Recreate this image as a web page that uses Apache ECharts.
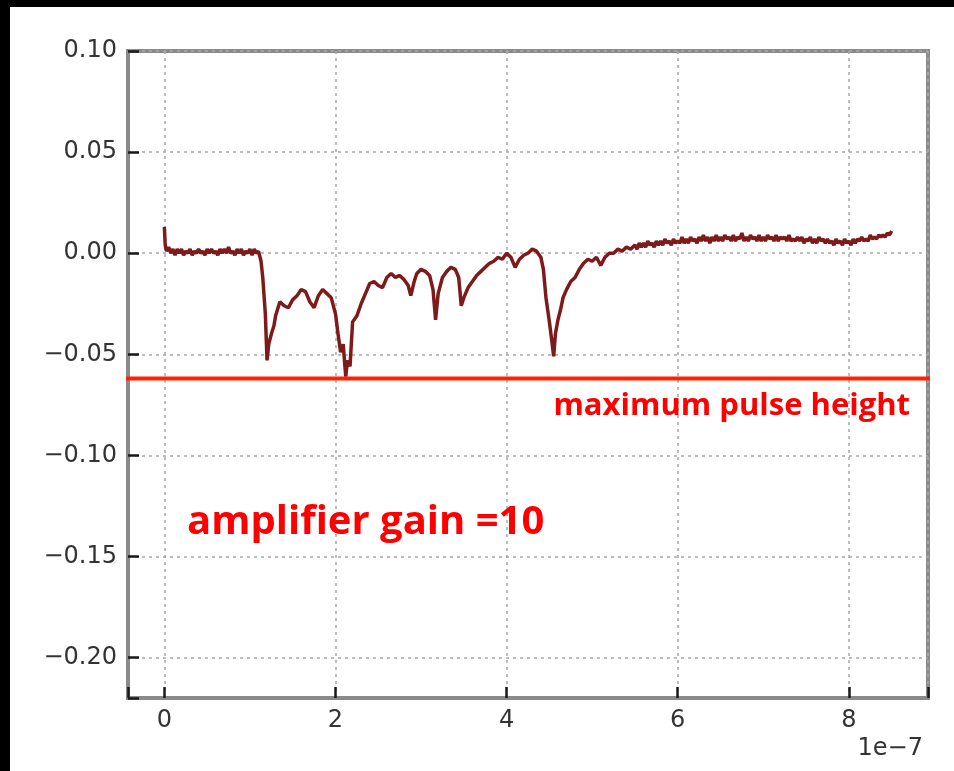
<!DOCTYPE html>
<html>
<head>
<meta charset="utf-8">
<script src="https://cdn.jsdelivr.net/npm/echarts@6/dist/echarts.min.js"></script>
<style>
  html, body { margin: 0; padding: 0; background: #fff; }
  #chart { width: 954px; height: 771px; }
</style>
</head>
<body>
<div id="chart"></div>
<script>
// Signal trace, time in units of 1e-7 s, voltage in V.
// Pre-pulse baseline
const baselineTimes = [
  0.000, 0.010, 0.025, 0.050, 0.075, 0.100, 0.125, 0.150, 0.175, 0.200, 0.225, 0.250,
  0.275, 0.300, 0.325, 0.350, 0.375, 0.400, 0.425, 0.450, 0.475, 0.500, 0.525, 0.550,
  0.575, 0.600, 0.625, 0.650, 0.675, 0.700, 0.725, 0.750, 0.775, 0.800, 0.825, 0.850,
  0.875, 0.900, 0.925, 0.950, 0.975, 1.000, 1.025, 1.050, 1.075, 1.100
];
const baselineValues = [
  0.013, 0.004, 0.001, 0.003, 0.000, 0.002, -0.001, 0.002, 0.000, 0.002, -0.001, 0.001,
  0.000, 0.002, -0.001, 0.001, 0.000, 0.002, 0.000, 0.001, -0.001, 0.002, 0.000, 0.002,
  0.000, 0.001, -0.001, 0.002, 0.000, 0.002, 0.000, 0.003, 0.000, 0.001, -0.001, 0.002,
  0.000, 0.002, -0.001, 0.001, 0.000, 0.002, -0.001, 0.002, 0.000, 0.001
];

// Pulse train
const pulseTimes = [
  1.13, 1.15, 1.18, 1.20, 1.22, 1.25, 1.28, 1.30,
  1.35, 1.40, 1.45, 1.50, 1.55, 1.60, 1.65, 1.70,
  1.75, 1.80, 1.85, 1.90, 1.95, 2.00, 2.03, 2.06,
  2.09, 2.12, 2.14, 2.17, 2.20, 2.25, 2.30, 2.35,
  2.40, 2.45, 2.50, 2.55, 2.60, 2.65, 2.70, 2.75,
  2.80, 2.85, 2.88, 2.92, 2.95, 3.00, 3.05, 3.10,
  3.14, 3.17, 3.20, 3.25, 3.30, 3.35, 3.40, 3.44,
  3.47, 3.50, 3.55, 3.60, 3.65, 3.70, 3.75, 3.80,
  3.85, 3.90, 3.95, 4.00, 4.05, 4.10, 4.15, 4.20,
  4.25, 4.30, 4.35, 4.40, 4.43, 4.46, 4.50, 4.53,
  4.55, 4.57, 4.60, 4.63, 4.66, 4.70, 4.75, 4.80,
  4.85, 4.90, 4.95, 5.00, 5.05, 5.10, 5.15, 5.20,
  5.25, 5.30, 5.35, 5.40, 5.45
];
const pulseValues = [
  -0.004, -0.012, -0.030, -0.053, -0.045, -0.040, -0.036, -0.031,
  -0.024, -0.026, -0.027, -0.023, -0.021, -0.018, -0.019, -0.024,
  -0.027, -0.021, -0.018, -0.020, -0.022, -0.030, -0.040, -0.049,
  -0.045, -0.061, -0.053, -0.056, -0.034, -0.031, -0.025, -0.020,
  -0.015, -0.014, -0.016, -0.017, -0.012, -0.010, -0.012, -0.011,
  -0.013, -0.016, -0.021, -0.014, -0.010, -0.008, -0.009, -0.011,
  -0.018, -0.033, -0.020, -0.012, -0.009, -0.007, -0.008, -0.012,
  -0.026, -0.022, -0.017, -0.014, -0.011, -0.009, -0.007, -0.005,
  -0.004, -0.002, -0.003, 0.000, -0.002, -0.007, -0.003, -0.001,
  0.000, 0.002, 0.001, -0.002, -0.008, -0.022, -0.034, -0.044,
  -0.051, -0.040, -0.033, -0.028, -0.022, -0.018, -0.014, -0.012,
  -0.008, -0.005, -0.003, -0.004, -0.002, -0.006, -0.002, 0.000,
  0.000, 0.002, 0.001, 0.003, 0.002
];

// Slow recovery tail
const tailTimes = [
  5.500, 5.525, 5.550, 5.575, 5.600, 5.625, 5.650, 5.675, 5.700, 5.725, 5.750,
  5.775, 5.800, 5.825, 5.850, 5.875, 5.900, 5.925, 5.950, 5.975, 6.000, 6.025,
  6.050, 6.075, 6.100, 6.125, 6.150, 6.175, 6.200, 6.225, 6.250, 6.275, 6.300,
  6.325, 6.350, 6.375, 6.400, 6.425, 6.450, 6.475, 6.500, 6.525, 6.550, 6.575,
  6.600, 6.625, 6.650, 6.675, 6.700, 6.725, 6.750, 6.775, 6.800, 6.825, 6.850,
  6.875, 6.900, 6.925, 6.950, 6.975, 7.000, 7.025, 7.050, 7.075, 7.100, 7.125,
  7.150, 7.175, 7.200, 7.225, 7.250, 7.275, 7.300, 7.325, 7.350, 7.375, 7.400,
  7.425, 7.450, 7.475, 7.500, 7.525, 7.550, 7.575, 7.600, 7.625, 7.650, 7.675,
  7.700, 7.725, 7.750, 7.775, 7.800, 7.825, 7.850, 7.875, 7.900, 7.925, 7.950,
  7.975, 8.000, 8.025, 8.050, 8.075, 8.100, 8.125, 8.150, 8.175, 8.200, 8.225,
  8.250, 8.275, 8.300, 8.325, 8.350, 8.375, 8.400, 8.425, 8.450, 8.475, 8.500
];
const tailValues = [
  0.004, 0.002, 0.005, 0.003, 0.005, 0.003, 0.006, 0.004, 0.005, 0.003, 0.006,
  0.004, 0.006, 0.004, 0.007, 0.005, 0.006, 0.004, 0.007, 0.005, 0.006, 0.005,
  0.008, 0.005, 0.007, 0.005, 0.008, 0.006, 0.007, 0.005, 0.008, 0.006, 0.009,
  0.006, 0.008, 0.005, 0.008, 0.006, 0.009, 0.006, 0.008, 0.006, 0.009, 0.007,
  0.008, 0.006, 0.009, 0.006, 0.008, 0.007, 0.010, 0.006, 0.008, 0.006, 0.009,
  0.007, 0.008, 0.006, 0.009, 0.006, 0.008, 0.006, 0.009, 0.007, 0.008, 0.006,
  0.009, 0.006, 0.008, 0.007, 0.008, 0.006, 0.009, 0.006, 0.007, 0.006, 0.008,
  0.006, 0.008, 0.005, 0.007, 0.006, 0.008, 0.005, 0.007, 0.005, 0.008, 0.006,
  0.007, 0.005, 0.007, 0.005, 0.006, 0.004, 0.007, 0.005, 0.006, 0.004, 0.007,
  0.005, 0.006, 0.004, 0.007, 0.005, 0.007, 0.006, 0.008, 0.006, 0.007, 0.006,
  0.009, 0.007, 0.008, 0.007, 0.009, 0.008, 0.009, 0.008, 0.010, 0.009, 0.011
];

// Axis ranges and tick values
const xAxisMin = -0.425;
const xAxisMax = 8.925;
const yAxisMin = -0.22;
const yAxisMax = 0.10;
const xTicks = [0, 2, 4, 6, 8];
const yTicks = [-0.20, -0.15, -0.10, -0.05, 0.00, 0.05, 0.10];

// Threshold level and the span it is drawn over (a little past the frame)
const maxPulseHeight = -0.062;
const thresholdSpan = [-0.483, 8.983];

const allTimes = baselineTimes.concat(pulseTimes, tailTimes);
const allValues = baselineValues.concat(pulseValues, tailValues);
const traceData = allTimes.map((t, i) => [t, allValues[i]]);
const thresholdData = thresholdSpan.map(t => [t, maxPulseHeight]);

const minus = '\u2212';
const tickFont = 'DejaVu Sans';
const labelColor = '#333333';
const frameColor = '#8a8a8a';
const gridLine = { show: true, lineStyle: { color: '#a8a8a8', width: 1.5, type: [3, 4] } };
const tickStyle = { color: '#1a1a1a', width: 2.5 };

const chart = echarts.init(document.getElementById('chart'), null, { renderer: 'canvas' });

chart.setOption({
  animation: false,
  backgroundColor: '#ffffff',
  grid: {
    left: 128, right: 26, top: 51, bottom: 73,
    show: true,
    borderColor: frameColor,
    borderWidth: 4,
    backgroundColor: 'transparent'
  },
  xAxis: {
    type: 'value',
    min: xAxisMin,
    max: xAxisMax,
    splitNumber: 5,
    axisLine: { show: true, onZero: false, lineStyle: { color: frameColor, width: 4 } },
    axisTick: { show: true, inside: true, length: 11, lineStyle: tickStyle },
    axisLabel: {
      customValues: xTicks,
      margin: 11,
      fontFamily: tickFont,
      fontSize: 24,
      color: labelColor,
      formatter: v => String(v)
    },
    splitLine: gridLine
  },
  yAxis: {
    type: 'value',
    min: yAxisMin,
    max: yAxisMax,
    splitNumber: 6,
    axisLine: { show: true, onZero: false, lineStyle: { color: frameColor, width: 4 } },
    axisTick: { show: true, inside: true, length: 11, lineStyle: tickStyle },
    axisLabel: {
      customValues: yTicks,
      margin: 11,
      fontFamily: tickFont,
      fontSize: 24,
      color: labelColor,
      formatter: v => (v < -1e-9 ? minus : '') + Math.abs(v).toFixed(2)
    },
    splitLine: gridLine
  },
  series: [
    {
      name: 'signal',
      type: 'line',
      data: traceData,
      showSymbol: false,
      lineStyle: { color: '#7d1b1b', width: 3.5 },
      z: 3
    },
    {
      name: 'maximum pulse height',
      type: 'line',
      data: thresholdData,
      showSymbol: false,
      clip: false,
      lineStyle: { color: '#ff2200', width: 4 },
      z: 4
    }
  ],
  graphic: [
    { type: 'rect', left: 0, top: 0, shape: { width: 954, height: 7 }, style: { fill: '#000' }, z: 100 },
    { type: 'rect', left: 0, top: 0, shape: { width: 10, height: 771 }, style: { fill: '#000' }, z: 100 },
    {
      type: 'text', right: 44, top: 391, z: 50,
      style: { text: 'maximum pulse height', fill: '#ff0000', font: 'bold 31px "Open Sans"' }
    },
    {
      type: 'text', left: 187, top: 503, z: 50,
      style: { text: 'amplifier gain =10', fill: '#ff0000', font: 'bold 40px "Open Sans"' }
    },
    {
      type: 'text', right: 31, top: 737, z: 50,
      style: { text: '1e' + minus + '7', fill: labelColor, font: '24px "DejaVu Sans"' }
    }
  ]
});
</script>
</body>
</html>
